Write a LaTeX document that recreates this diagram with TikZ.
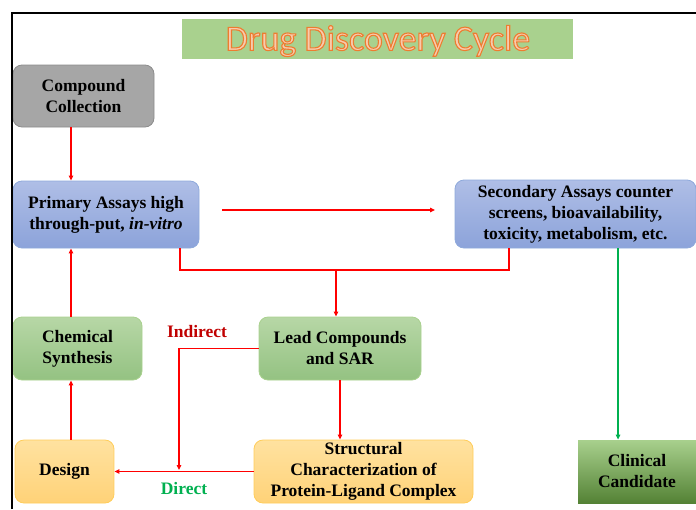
\documentclass[tikz,border=0pt]{standalone}
\usepackage{fontspec}
\setmainfont{Liberation Serif}
\newfontfamily\titlefont{Carlito}
\usepackage{xcolor}
\usepackage{tikz}
\usetikzlibrary{arrows.meta, positioning}

\definecolor{redline}{RGB}{255,0,0}
\definecolor{greenline}{RGB}{0,176,80}
\definecolor{indred}{RGB}{192,0,0}
\definecolor{titlegreen}{RGB}{169,209,142}
\definecolor{titlefill}{RGB}{248,203,173}

% outlined text (stroke + fill)
\newcommand{\outlinetext}[1]{\special{pdf:literal direct 2 Tr 1.1 w 0.93 0.49 0.19 RG}#1\special{pdf:literal direct 0 Tr}}

\tikzset{
  box/.style={rounded corners=9pt, align=center, inner sep=2pt, font=\bfseries\fontsize{17.5}{21}\selectfont, line width=0.8pt},
  graybox/.style={box, draw={rgb,255:red,140;green,140;blue,140}, fill={rgb,255:red,166;green,166;blue,166}},
  bluebox/.style={box, draw={rgb,255:red,142;green,169;blue,219}, top color={rgb,255:red,175;green,190;blue,230}, bottom color={rgb,255:red,140;green,163;blue,218}},
  greenbox/.style={box, draw={rgb,255:red,169;green,209;blue,142}, top color={rgb,255:red,183;green,215;blue,166}, bottom color={rgb,255:red,148;green,194;blue,130}},
  orangebox/.style={box, draw={rgb,255:red,255;green,205;blue,90}, top color={rgb,255:red,255;green,226;blue,160}, bottom color={rgb,255:red,255;green,210;blue,120}},
  clinbox/.style={box, rounded corners=0pt, top color={rgb,255:red,168;green,208;blue,141}, bottom color={rgb,255:red,84;green,130;blue,53}},
  redarr/.style={draw=redline, line width=1.2pt, -{Triangle[length=5pt,width=4.5pt]}},
  redln/.style={draw=redline, line width=1.2pt},
  greenarr/.style={draw=greenline, line width=1.2pt, -{Triangle[length=5pt,width=4.5pt]}},
}

\begin{document}
\begin{tikzpicture}[x=1pt,y=1pt,yscale=-1]
\useasboundingbox (0,0) rectangle (696,509);

%Title
\node[fill=titlegreen, minimum width=391pt, minimum height=40pt] (titlebox) at (377.5,39) {};
\node[text=titlefill, font=\titlefont\fontsize{36}{38}\selectfont] (title) at (378,41) {\outlinetext{Drug Discovery Cycle}};

%Shapes
\node[graybox, minimum width=141pt, minimum height=62pt] (comp) at (83.5,96) {Compound\\Collection};
\node[bluebox, minimum width=186pt, minimum height=67pt] (prim) at (106,214.5) {Primary Assays high\\through-put, \textit{in-vitro}};
\node[bluebox, minimum width=241pt, minimum height=68pt] (sec) at (575.5,214) {Secondary Assays counter\\screens, bioavailability,\\toxicity, metabolism, etc.};
\node[greenbox, minimum width=129pt, minimum height=63pt] (chem) at (77.5,348.5) {Chemical\\Synthesis};
\node[greenbox, minimum width=162pt, minimum height=63pt] (lead) at (340,348.5) {Lead Compounds\\and SAR};
\node[orangebox, minimum width=99pt, minimum height=63pt] (design) at (64.5,471.5) {Design};
\node[orangebox, minimum width=219pt, minimum height=63pt] (struct) at (363.5,471.5) {Structural\\Characterization of\\Protein-Ligand Complex};
\node[clinbox, minimum width=118pt, minimum height=63pt] (clin) at (637,471.5) {Clinical\\Candidate};

%Coordinates
\coordinate (lcol) at (71,0);
\coordinate (bcol) at (180,0);
\coordinate (scol) at (509,0);
\coordinate (gcol) at (618,0);
\coordinate (junc) at (336,270);
\coordinate (drop) at (179,470);
\coordinate (hstart) at (222,210);
\coordinate (hend) at (435,210);

%Connectors
\draw[redarr] (comp.south -| lcol) -- (prim.north -| lcol);
\draw[redarr] (hstart) -- (hend);
\draw[redln] (prim.south -| bcol) |- (junc) -| (sec.south -| scol);
\draw[redarr] (junc) -- (lead.north -| junc);
\draw[greenarr] (sec.south -| gcol) -- (clin.north -| gcol);
\draw[redarr] (lead.south) -- (lead.south |- struct.north);
\draw[redarr] (struct.west) -- (design.east);
\draw[redarr] (lead.west) -| (drop);
\draw[redarr] (design.north -| lcol) -- (chem.south -| lcol);
\draw[redarr] (chem.north -| lcol) -- (prim.south -| lcol);

% Text Node
\node[font=\bfseries\fontsize{17.5}{21}\selectfont, text=indred] (indirect) at (197,332) {Indirect};
% Text Node
\node[font=\bfseries\fontsize{17.5}{21}\selectfont, text=greenline] (direct) at (184,489) {Direct};

%Frame
\draw[line width=2.5pt] (12,509) -- (12,13) -- (696,13);
\end{tikzpicture}
\end{document}
